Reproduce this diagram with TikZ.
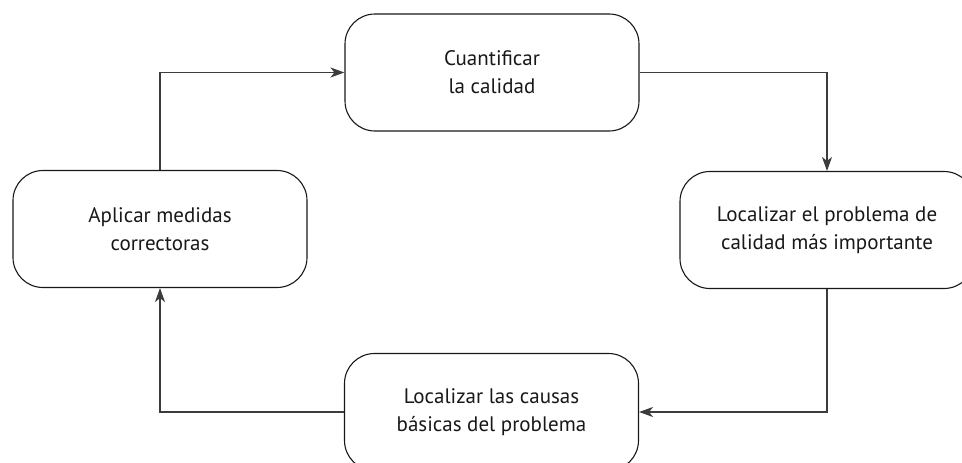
\documentclass[tikz,border=0pt]{standalone}
\usepackage{fontspec}
\setmainfont{PT Sans}
\usetikzlibrary{arrows.meta}
\definecolor{txt}{HTML}{1A1718}
\definecolor{ln}{HTML}{3C3C3C}
\tikzset{
  stepbox/.style={draw=txt, line width=1.1pt, rounded corners=30pt, minimum width=294pt, minimum height=117pt, align=center, text=txt, inner sep=0pt, font=\fontsize{21}{28}\selectfont},
  conn/.style={draw=ln, line width=1.5pt, -{Stealth[length=14pt, width=10pt, inset=4pt]}}
}
\begin{document}
\begin{tikzpicture}[x=1pt,y=-1pt]
\useasboundingbox (0,0) rectangle (962,463);
\node[stepbox] (q) at (492,72.5) {Cuantificar\\la calidad};
\node[stepbox] (p) at (827,230) {Localizar el problema de\\calidad más importante};
\node[stepbox] (c) at (491.5,412) {Localizar las causas\\básicas del problema};
\node[stepbox] (a) at (160,229) {Aplicar medidas\\correctoras};
\draw[conn] (q.east) -| (p.north);
\draw[conn] (p.south) |- (c.east);
\draw[conn] (c.west) -| (a.south);
\draw[conn] (a.north) |- (q.west);
\end{tikzpicture}
\end{document}
